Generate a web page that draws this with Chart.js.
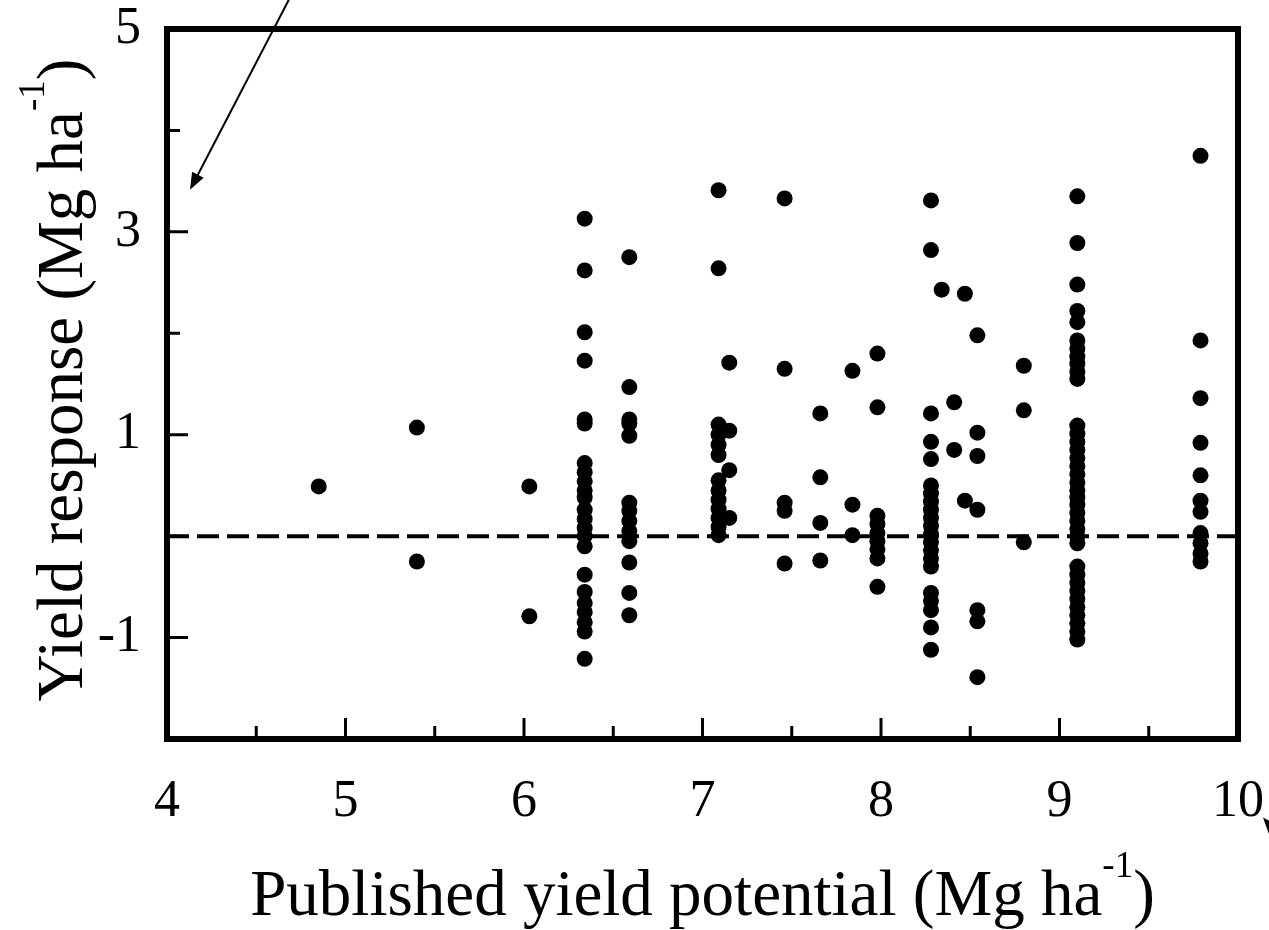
<!DOCTYPE html>
<html>
<head>
<meta charset="utf-8">
<script src="https://cdn.jsdelivr.net/npm/chart.js@4.4.1/dist/chart.umd.min.js"></script>
<style>
  html, body { margin: 0; padding: 0; background: #fff; }
  canvas { display: block; }
</style>
</head>
<body>
<canvas id="chart" width="1269" height="930"></canvas>
<script>
// published yield potential (x) of each site column
const potential = [4.85, 5.40, 6.03, 6.34, 6.59, 7.09, 7.15, 7.46, 7.66, 7.84, 7.98,
                   8.28, 8.34, 8.41, 8.47, 8.54, 8.80, 9.10, 9.79];

// yield responses measured at each column, same order as potential
const response = [
    [0.49],
    [1.07, -0.25],
    [0.49, -0.79],
    [3.13, 2.62, 2.01, 1.73, 1.15, 1.11, 0.72, 0.63, 0.54, 0.45, 0.38, 0.26, 0.17, 0.08, 0.0, -0.10,
     -0.38, -0.55, -0.66, -0.75, -0.85, -0.94, -1.21],
    [2.75, 1.47, 1.15, 1.11, 0.99, 0.33, 0.25, 0.15, 0.05, -0.05, -0.26, -0.56, -0.78],
    [3.41, 2.64, 1.10, 1.00, 0.90, 0.80, 0.55, 0.45, 0.36, 0.27, 0.18, 0.09, 0.01],
    [1.71, 1.04, 0.65, 0.18],
    [3.33, 1.65, 0.33, 0.25, -0.27],
    [1.21, 0.58, 0.13, -0.24],
    [1.63, 0.31, 0.01],
    [1.80, 1.27, 0.20, 0.12, 0.03, -0.05, -0.13, -0.22, -0.50],
    [3.31, 2.82, 1.21, 0.93, 0.76, 0.50, 0.42, 0.34, 0.26, 0.18, 0.10, 0.02, -0.06, -0.14, -0.22, -0.30,
     -0.56, -0.64, -0.73, -0.90, -1.12],
    [2.43],
    [1.32, 0.85],
    [2.39, 0.35],
    [1.98, 1.02, 0.79, 0.26, -0.73, -0.84, -1.39],
    [1.68, 1.24, -0.06],
    [3.35, 2.89, 2.48, 2.22, 2.11, 1.93, 1.85, 1.77, 1.70, 1.62, 1.55, 1.09, 1.01, 0.93, 0.85, 0.77, 0.69,
     0.61, 0.53, 0.45, 0.38, 0.31, 0.23, 0.15, 0.07, 0.0, -0.07, -0.30, -0.38, -0.46, -0.54, -0.62, -0.70,
     -0.78, -0.86, -0.94, -1.02],
    [3.75, 1.93, 1.36, 0.92, 0.60, 0.35, 0.24, 0.03, -0.07, -0.17, -0.25],
];

const xRange = [4, 10];
const yRange = [-2, 5];
const yLabelled = [-1, 1, 3, 5];
const zeroLine = [{ x: 4, y: 0 }, { x: 10, y: 0 }];

const xTitle = 'Published yield potential (Mg ha';
const yTitle = 'Yield response (Mg ha';
const unitSup = '-1';

// stray arrows left over from the scanned page, in data units [tail, tip]
const arrows = [
    [{ x: 4.689, y: 5.31 }, { x: 4.129, y: 3.414 }],
    [{ x: 10.30, y: -3.10 }, { x: 10.14, y: -2.773 }],
];

const serif = "'Liberation Serif', 'Times New Roman', serif";

const points = potential.flatMap((x, i) => response[i].map(y => ({ x, y })));

const drawArrow = (ctx, x1, y1, x2, y2) => {
    const ang = Math.atan2(y2 - y1, x2 - x1);
    const len = 17, half = 6.5;
    ctx.beginPath();
    ctx.moveTo(x1, y1);
    ctx.lineTo(x2 - Math.cos(ang) * len * 0.8, y2 - Math.sin(ang) * len * 0.8);
    ctx.lineWidth = 2;
    ctx.stroke();
    ctx.beginPath();
    ctx.moveTo(x2, y2);
    ctx.lineTo(x2 - Math.cos(ang) * len - Math.sin(ang) * half, y2 - Math.sin(ang) * len + Math.cos(ang) * half);
    ctx.lineTo(x2 - Math.cos(ang) * len + Math.sin(ang) * half, y2 - Math.sin(ang) * len - Math.cos(ang) * half);
    ctx.closePath();
    ctx.fill();
};

// title with a superscript unit, drawn centred on (0,0) of the current transform
const drawTitle = (ctx, text) => {
    ctx.font = `65px ${serif}`;
    const wMain = ctx.measureText(text).width;
    const wClose = ctx.measureText(')').width;
    ctx.font = `37px ${serif}`;
    const wSup = ctx.measureText(unitSup).width;
    let x = -(wMain + wSup + wClose) / 2;
    ctx.textAlign = 'left';
    ctx.textBaseline = 'alphabetic';
    ctx.font = `65px ${serif}`;
    ctx.fillText(text, x, 0);
    x += wMain;
    ctx.font = `37px ${serif}`;
    ctx.fillText(unitSup, x, -38);
    x += wSup;
    ctx.font = `65px ${serif}`;
    ctx.fillText(')', x, 0);
};

const framePlugin = {
    id: 'frame',
    afterDraw(chart) {
        const { ctx, chartArea: a, scales: { x, y } } = chart;
        ctx.save();
        ctx.strokeStyle = '#000';
        ctx.fillStyle = '#000';

        // inward tick marks
        ctx.lineWidth = 3;
        ctx.beginPath();
        for (let v = xRange[0] + 0.5; v < xRange[1]; v += 0.5) {
            const px = x.getPixelForValue(v);
            const len = Number.isInteger(v) ? 21 : 13;
            ctx.moveTo(px, a.bottom);
            ctx.lineTo(px, a.bottom - len);
        }
        for (let v = yRange[0] + 1; v < yRange[1]; v += 1) {
            const py = y.getPixelForValue(v);
            const len = yLabelled.includes(v) ? 21 : 13;
            ctx.moveTo(a.left, py);
            ctx.lineTo(a.left + len, py);
        }
        ctx.stroke();

        // box
        ctx.lineWidth = 6;
        ctx.strokeRect(a.left, a.top, a.right - a.left, a.bottom - a.top);

        // arrows
        arrows.forEach(([t, h]) => {
            drawArrow(ctx, x.getPixelForValue(t.x), y.getPixelForValue(t.y),
                x.getPixelForValue(h.x), y.getPixelForValue(h.y));
        });

        // axis titles
        ctx.save();
        ctx.translate((a.left + a.right) / 2, 915);
        drawTitle(ctx, xTitle);
        ctx.restore();

        ctx.save();
        ctx.translate(82, (a.top + a.bottom) / 2 - 4);
        ctx.rotate(-Math.PI / 2);
        drawTitle(ctx, yTitle);
        ctx.restore();

        ctx.restore();
    }
};

const tickFont = { family: serif, size: 52 };

new Chart(document.getElementById('chart'), {
    type: 'scatter',
    data: {
        datasets: [
            {
                data: points,
                backgroundColor: '#000',
                borderWidth: 0,
                pointRadius: 8,
                pointHoverRadius: 8,
                order: 1,
            },
            {
                type: 'line',
                data: zeroLine,
                borderColor: '#000',
                borderWidth: 4,
                borderDash: [22, 8],
                pointRadius: 0,
                fill: false,
                order: 2,
            },
        ]
    },
    options: {
        responsive: false,
        animation: false,
        events: [],
        layout: { padding: { top: 29, right: 31, left: 0, bottom: 0 } },
        plugins: {
            legend: { display: false },
            tooltip: { enabled: false },
        },
        scales: {
            x: {
                type: 'linear',
                min: xRange[0],
                max: xRange[1],
                grid: { display: false },
                border: { display: false },
                ticks: {
                    stepSize: 1,
                    color: '#000',
                    font: tickFont,
                    padding: 24,
                    maxRotation: 0,
                    autoSkip: false,
                },
                afterFit: (s) => { s.height = 191; s.paddingLeft = 0; s.paddingRight = 0; },
            },
            y: {
                min: yRange[0],
                max: yRange[1],
                grid: { display: false },
                border: { display: false },
                ticks: {
                    stepSize: 1,
                    color: '#000',
                    font: tickFont,
                    padding: 18,
                    autoSkip: false,
                    callback: (v) => yLabelled.includes(v) ? String(v) : '',
                },
                afterFit: (s) => { s.width = 167; s.paddingTop = 0; s.paddingBottom = 0; },
            },
        }
    },
    plugins: [framePlugin]
});
</script>
</body>
</html>
